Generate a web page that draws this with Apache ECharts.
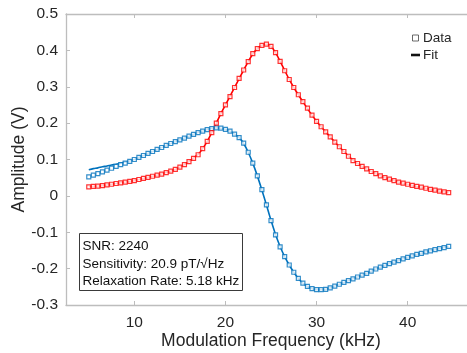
<!DOCTYPE html>
<html>
<head>
<meta charset="utf-8">
<script src="https://cdn.jsdelivr.net/npm/echarts@6/dist/echarts.min.js"></script>
<style>
  html, body { margin: 0; padding: 0; background: #fff; }
  #chart { width: 467px; height: 353px; }
</style>
</head>
<body>
<div id="chart"></div>
<script>
// Modulation frequency sweep, 5 to 44.5 kHz in 0.5 kHz steps (kHz)
const freq = [
  5.0, 5.5, 6.0, 6.5, 7.0, 7.5, 8.0, 8.5, 9.0, 9.5,
  10.0, 10.5, 11.0, 11.5, 12.0, 12.5, 13.0, 13.5, 14.0, 14.5,
  15.0, 15.5, 16.0, 16.5, 17.0, 17.5, 18.0, 18.5, 19.0, 19.5,
  20.0, 20.5, 21.0, 21.5, 22.0, 22.5, 23.0, 23.5, 24.0, 24.5,
  25.0, 25.5, 26.0, 26.5, 27.0, 27.5, 28.0, 28.5, 29.0, 29.5,
  30.0, 30.5, 31.0, 31.5, 32.0, 32.5, 33.0, 33.5, 34.0, 34.5,
  35.0, 35.5, 36.0, 36.5, 37.0, 37.5, 38.0, 38.5, 39.0, 39.5,
  40.0, 40.5, 41.0, 41.5, 42.0, 42.5, 43.0, 43.5, 44.0, 44.5
];

// Measured in-phase (red) amplitude, V
const redData = [
  0.025, 0.026, 0.027, 0.028, 0.030, 0.032, 0.034, 0.036, 0.038, 0.040,
  0.042, 0.045, 0.048, 0.051, 0.054, 0.057, 0.060, 0.064, 0.068, 0.073,
  0.079, 0.086, 0.094, 0.103, 0.113, 0.130, 0.150, 0.174, 0.200, 0.226,
  0.250, 0.273, 0.298, 0.323, 0.346, 0.369, 0.391, 0.405, 0.414, 0.417,
  0.411, 0.394, 0.370, 0.344, 0.320, 0.298, 0.278, 0.259, 0.241, 0.222,
  0.205, 0.190, 0.176, 0.162, 0.148, 0.135, 0.122, 0.109, 0.097, 0.089,
  0.081, 0.074, 0.067, 0.061, 0.055, 0.050, 0.046, 0.042, 0.038, 0.035,
  0.032, 0.029, 0.026, 0.024, 0.021, 0.018, 0.016, 0.013, 0.011, 0.009
];

// Measured quadrature (blue) amplitude, V
const blueData = [
  0.052, 0.057, 0.061, 0.066, 0.071, 0.076, 0.081, 0.086, 0.090, 0.095,
  0.100, 0.106, 0.111, 0.117, 0.122, 0.128, 0.133, 0.139, 0.144, 0.149,
  0.154, 0.159, 0.164, 0.169, 0.174, 0.178, 0.182, 0.185, 0.187, 0.186,
  0.183, 0.178, 0.170, 0.160, 0.145, 0.120, 0.090, 0.055, 0.017, -0.025,
  -0.068, -0.107, -0.140, -0.167, -0.190, -0.210, -0.227, -0.240, -0.249, -0.255,
  -0.258, -0.258, -0.257, -0.253, -0.248, -0.243, -0.238, -0.233, -0.228, -0.223,
  -0.218, -0.213, -0.207, -0.201, -0.196, -0.191, -0.186, -0.182, -0.178, -0.173,
  -0.169, -0.165, -0.161, -0.158, -0.154, -0.151, -0.148, -0.145, -0.142, -0.139
];

// Fitted curves on the same frequency grid, V
const redFit = [
  0.025, 0.026, 0.027, 0.028, 0.030, 0.032, 0.034, 0.036, 0.038, 0.040,
  0.042, 0.045, 0.048, 0.051, 0.054, 0.057, 0.060, 0.064, 0.068, 0.073,
  0.079, 0.086, 0.094, 0.104, 0.114, 0.130, 0.150, 0.174, 0.200, 0.226,
  0.250, 0.274, 0.298, 0.322, 0.346, 0.369, 0.390, 0.405, 0.414, 0.417,
  0.411, 0.394, 0.370, 0.345, 0.320, 0.298, 0.278, 0.259, 0.240, 0.222,
  0.205, 0.190, 0.176, 0.162, 0.148, 0.135, 0.122, 0.110, 0.098, 0.089,
  0.081, 0.074, 0.067, 0.061, 0.055, 0.050, 0.046, 0.042, 0.038, 0.035,
  0.032, 0.029, 0.026, 0.024, 0.021, 0.018, 0.016, 0.013, 0.011, 0.009
];
const blueFit = [
  0.072, 0.075, 0.077, 0.080, 0.082, 0.085, 0.087, 0.090, 0.093, 0.096,
  0.100, 0.106, 0.111, 0.117, 0.122, 0.128, 0.133, 0.139, 0.144, 0.149,
  0.154, 0.159, 0.164, 0.169, 0.174, 0.178, 0.182, 0.185, 0.187, 0.186,
  0.183, 0.178, 0.170, 0.160, 0.144, 0.120, 0.090, 0.055, 0.016, -0.025,
  -0.067, -0.106, -0.139, -0.167, -0.190, -0.210, -0.227, -0.240, -0.249, -0.255,
  -0.258, -0.258, -0.257, -0.253, -0.248, -0.243, -0.238, -0.233, -0.228, -0.223,
  -0.218, -0.213, -0.207, -0.201, -0.196, -0.191, -0.186, -0.182, -0.178, -0.173,
  -0.169, -0.165, -0.161, -0.158, -0.154, -0.151, -0.148, -0.145, -0.142, -0.139
];

// Axis tick labels
const xTicks = [10, 20, 30, 40];
const yTicks = ['-0.3', '-0.2', '-0.1', '0', '0.1', '0.2', '0.3', '0.4', '0.5'];

// Fit summary shown in the box
const statLines = ['SNR: 2240', 'Sensitivity: 20.9 pT/\u221AHz', 'Relaxation Rate: 5.18 kHz'];

const RED = '#ff0000';
const BLUE = '#0072bd';
const AXIS = '#bdbdbd';
const INK = '#262626';
const FONT = '"Liberation Sans", Arial, Helvetica, sans-serif';

const pairs = (ys) => freq.map((f, i) => [f, ys[i]]);

const chart = echarts.init(document.getElementById('chart'), null, { renderer: 'canvas' });

const axisBase = {
  type: 'value',
  min: 2.5,
  max: 47.5,
  axisLine: { show: true, onZero: false, lineStyle: { color: AXIS, width: 1.3 } },
  axisTick: { show: true, inside: true, length: 4, customValues: xTicks, lineStyle: { color: AXIS, width: 1 } },
  splitLine: { show: false }
};

chart.setOption({
  animation: false,
  backgroundColor: '#ffffff',
  textStyle: { fontFamily: FONT },
  // the right end of the frame (47.5 kHz) runs past the canvas edge
  grid: { left: 66, top: 14, width: 410, height: 291, containLabel: false, outerBoundsMode: 'none' },
  legend: {
    orient: 'vertical',
    left: 406,
    top: 26,
    itemWidth: 9,
    itemHeight: 6,
    itemGap: 3,
    selectedMode: false,
    textStyle: { fontFamily: FONT, fontSize: 13.5, color: INK, padding: [0, 0, 0, -2] },
    data: [
      { name: 'Data', icon: 'path://M2,0h5v5h-5z', itemStyle: { color: '#fff', borderColor: '#444', borderWidth: 1 } },
      { name: 'Fit', icon: 'path://M0,2h7v2h-7z', itemStyle: { color: '#111' } }
    ]
  },
  xAxis: [
    Object.assign({}, axisBase, {
      position: 'bottom',
      name: 'Modulation Frequency (kHz)',
      nameLocation: 'middle',
      nameGap: 27,
      nameMoveOverlap: false,
      nameTextStyle: { fontFamily: FONT, fontSize: 17.5, color: INK },
      axisLabel: { show: true, customValues: xTicks, margin: 10, fontFamily: FONT, fontSize: 15.5, color: INK }
    }),
    Object.assign({}, axisBase, {
      position: 'top',
      axisLabel: { show: false }
    })
  ],
  yAxis: {
    type: 'value',
    min: -0.3,
    max: 0.5,
    interval: 0.1,
    name: 'Amplitude (V)',
    nameLocation: 'middle',
    nameGap: 38,
    nameMoveOverlap: false,
    nameTextStyle: { fontFamily: FONT, fontSize: 17.5, color: INK },
    axisLine: { show: true, onZero: false, lineStyle: { color: AXIS, width: 1.3 } },
    axisTick: { show: true, inside: true, length: 4, lineStyle: { color: AXIS, width: 1 } },
    splitLine: { show: false },
    axisLabel: {
      margin: 8,
      fontFamily: FONT,
      fontSize: 15.5,
      color: INK,
      formatter: (v) => {
        const r = Math.round(v * 10);
        return yTicks[r + 3];
      }
    }
  },
  graphic: [
    {
      type: 'group',
      left: 79,
      top: 233,
      children: [
        {
          type: 'rect',
          shape: { x: 0, y: 0, width: 163, height: 57 },
          style: { fill: '#ffffff', stroke: '#3a3a3a', lineWidth: 1 }
        },
        {
          type: 'text',
          left: 3,
          top: 4,
          style: {
            text: statLines.join('\n'),
            font: '13.5px ' + FONT,
            fill: '#111',
            lineHeight: 17.6
          }
        }
      ]
    }
  ],
  series: [
    {
      name: 'Fit',
      type: 'line',
      data: [],
      showSymbol: false,
      lineStyle: { color: '#111' },
      itemStyle: { color: '#111' }
    },
    {
      name: 'Data',
      type: 'scatter',
      data: [],
      symbol: 'rect',
      itemStyle: { color: '#fff', borderColor: '#444' }
    },
    {
      name: 'blueFit',
      type: 'line',
      data: pairs(blueFit),
      showSymbol: false,
      smooth: 0.3,
      lineStyle: { color: BLUE, width: 1.6 },
      z: 2
    },
    {
      name: 'redFit',
      type: 'line',
      data: pairs(redFit),
      showSymbol: false,
      smooth: 0.3,
      lineStyle: { color: RED, width: 1.6 },
      z: 2
    },
    {
      name: 'blueData',
      type: 'scatter',
      data: pairs(blueData),
      symbol: 'rect',
      symbolSize: 4,
      itemStyle: { color: '#ffffff', borderColor: BLUE, borderWidth: 1.2 },
      z: 3
    },
    {
      name: 'redData',
      type: 'scatter',
      data: pairs(redData),
      symbol: 'rect',
      symbolSize: 4,
      itemStyle: { color: '#ffffff', borderColor: RED, borderWidth: 1.2 },
      z: 3
    }
  ]
});
</script>
</body>
</html>
